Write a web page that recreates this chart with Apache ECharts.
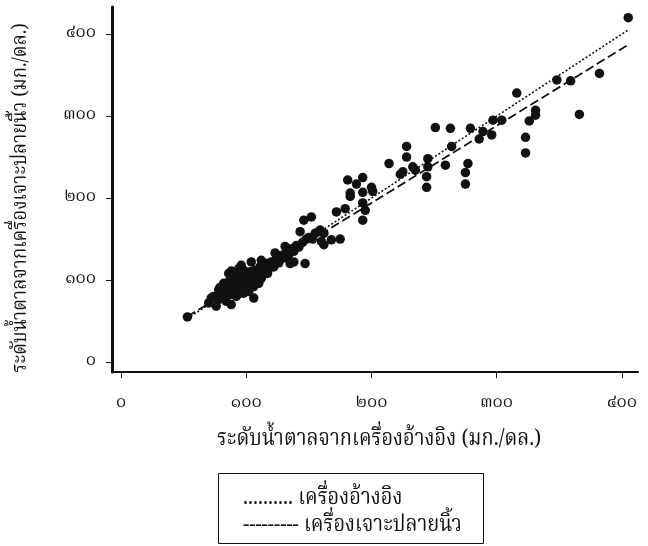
<!DOCTYPE html>
<html>
<head>
<meta charset="utf-8">
<script src="https://cdn.jsdelivr.net/npm/echarts@6/dist/echarts.min.js"></script>
<style>
  html, body { margin: 0; padding: 0; background: #fff; }
  #chart { width: 648px; height: 546px; }
</style>
</head>
<body>
<div id="chart"></div>
<script>
// Glucose readings (mg/dL): reference meter (x) vs fingertip meter (y)
const refValues = [
  53, 72, 76, 88, 79, 106, 88, 98, 104, 112, 116, 123, 131, 135, 138, 147, 143, 146, 152, 148,
  158, 160, 168, 175, 172, 179,
  70, 74, 78, 80, 82, 84, 85, 86, 87, 88, 89, 90, 91, 92, 93, 94, 95, 95, 96, 97,
  98, 99, 100, 100, 101, 102, 103, 104, 105, 106, 107, 108, 110, 111, 112, 114, 115, 117, 118, 120,
  122, 124, 126, 128, 130, 132, 134, 136, 138, 140, 142, 145, 150, 153, 155, 82, 86, 92, 96, 102,
  78, 84, 90, 94, 98, 110,
  159, 162, 162, 181, 183, 183, 188, 193, 193, 193, 195, 193, 200, 201, 214, 223, 225, 228, 228, 233,
  235, 244, 244, 245, 245, 251, 259, 263, 264, 275, 275, 277, 279, 286, 289, 296, 297, 304, 316, 323,
  323, 326, 331, 331, 348, 359, 366, 382, 405
];
const fingerValues = [
  55, 78, 68, 70, 91, 78, 111, 112, 122, 124, 120, 133, 141, 120, 122, 120, 159, 173, 177, 150,
  159, 147, 149, 150, 183, 187,
  72, 80, 76, 84, 80, 88, 95, 82, 100, 90, 86, 94, 104, 98, 88, 92, 106, 84, 98, 90,
  102, 95, 108, 88, 100, 94, 110, 98, 104, 92, 112, 100, 106, 116, 102, 110, 118, 108, 114, 122,
  116, 126, 121, 130, 127, 134, 131, 138, 135, 142, 140, 146, 152, 150, 157, 96, 108, 80, 118, 86,
  88, 74, 102, 114, 84, 96,
  161, 157, 143, 222, 206, 202, 217, 225, 207, 194, 185, 173, 213, 208, 242, 229, 232, 263, 250, 238,
  234, 213, 226, 238, 248, 286, 240, 285, 263, 217, 231, 242, 285, 272, 281, 277, 295, 295, 328, 255,
  274, 294, 301, 307, 344, 343, 302, 352, 420
];
// Fitted lines: reference (identity) and fingertip regression, endpoints in mg/dL
const refLineX = [53, 405];
const refLineY = [53, 405];
const fingerLineX = [53, 405];
const fingerLineY = [55.5, 387];
const tickValues = [0, 100, 200, 300, 400];
const thaiDigits = ['๐', '๑', '๒', '๓', '๔', '๕', '๖', '๗', '๘', '๙'];
const toThai = v => String(v).replace(/[0-9]/g, d => thaiDigits[+d]);

const xTitle = 'ระดับน้ำตาลจากเครื่องอ้างอิง (มก./ดล.)';
const yTitle = 'ระดับน้ำตาลจากเครื่องเจาะปลายนิ้ว (มก./ดล.)';
const legendLabels = ['เครื่องอ้างอิง', 'เครื่องเจาะปลายนิ้ว'];
const legendSamples = ['..........', '---------'];

const thaiFont = '"Noto Serif Thai", "Noto Sans Thai", "TH Sarabun New", Norasi, Garuda, Loma, "Tlwg Typo", serif';
const ink = '#111';

const points = refValues.map((x, i) => [x, fingerValues[i]]);

const chart = echarts.init(document.getElementById('chart'), null, { renderer: 'canvas' });
chart.setOption({
  animation: false,
  backgroundColor: '#fff',
  grid: { left: 112, top: 7, right: 10, bottom: 174, containLabel: false },
  xAxis: {
    type: 'value',
    min: -7.2, max: 412.8,
    splitLine: { show: false },
    axisLine: { onZero: false, lineStyle: { color: ink, width: 2 } },
    axisTick: { show: true, customValues: tickValues, length: 6, lineStyle: { color: ink, width: 1 } },
    axisLabel: { customValues: tickValues, formatter: toThai, margin: 24, color: ink,
                 fontSize: 17, fontFamily: thaiFont }
  },
  yAxis: {
    type: 'value',
    min: -12.2, max: 433,
    splitLine: { show: false },
    axisLine: { onZero: false, lineStyle: { color: ink, width: 3 } },
    axisTick: { show: true, customValues: tickValues, length: 6, lineStyle: { color: ink, width: 1 } },
    axisLabel: { customValues: tickValues, formatter: toThai, margin: 16, color: ink,
                 fontSize: 17, fontFamily: thaiFont }
  },
  series: [
    {
      type: 'scatter', data: points, symbol: 'circle', symbolSize: 9.5,
      itemStyle: { color: ink, opacity: 1 }, z: 3
    },
    {
      type: 'line', data: refLineX.map((x, i) => [x, refLineY[i]]), symbol: 'none',
      lineStyle: { color: ink, width: 1.6, type: [2, 2] }, z: 4
    },
    {
      type: 'line', data: fingerLineX.map((x, i) => [x, fingerLineY[i]]), symbol: 'none',
      lineStyle: { color: ink, width: 1.8, type: [9, 4] }, z: 4
    }
  ],
  graphic: [
    { type: 'text', x: 379, y: 441, scaleY: 1.12,
      style: { text: xTitle, fill: ink, font: '20px ' + thaiFont, align: 'center', verticalAlign: 'middle' } },
    { type: 'text', rotation: Math.PI / 2, x: 23, y: 198, scaleY: 1.12,
      style: { text: yTitle, fill: ink, font: '18.5px ' + thaiFont, align: 'center', verticalAlign: 'middle' } },
    { type: 'rect', shape: { x: 218.5, y: 473.5, width: 265, height: 70 },
      style: { fill: 'none', stroke: ink, lineWidth: 1 } },
    { type: 'text', x: 243, y: 500, scaleY: 1.12,
      style: { text: legendSamples[0] + ' ' + legendLabels[0], fill: ink, font: '20px ' + thaiFont, verticalAlign: 'middle' } },
    { type: 'text', x: 243, y: 527, scaleY: 1.12,
      style: { text: legendSamples[1] + ' ' + legendLabels[1], fill: ink, font: '20px ' + thaiFont, verticalAlign: 'middle' } }
  ]
});
</script>
</body>
</html>
